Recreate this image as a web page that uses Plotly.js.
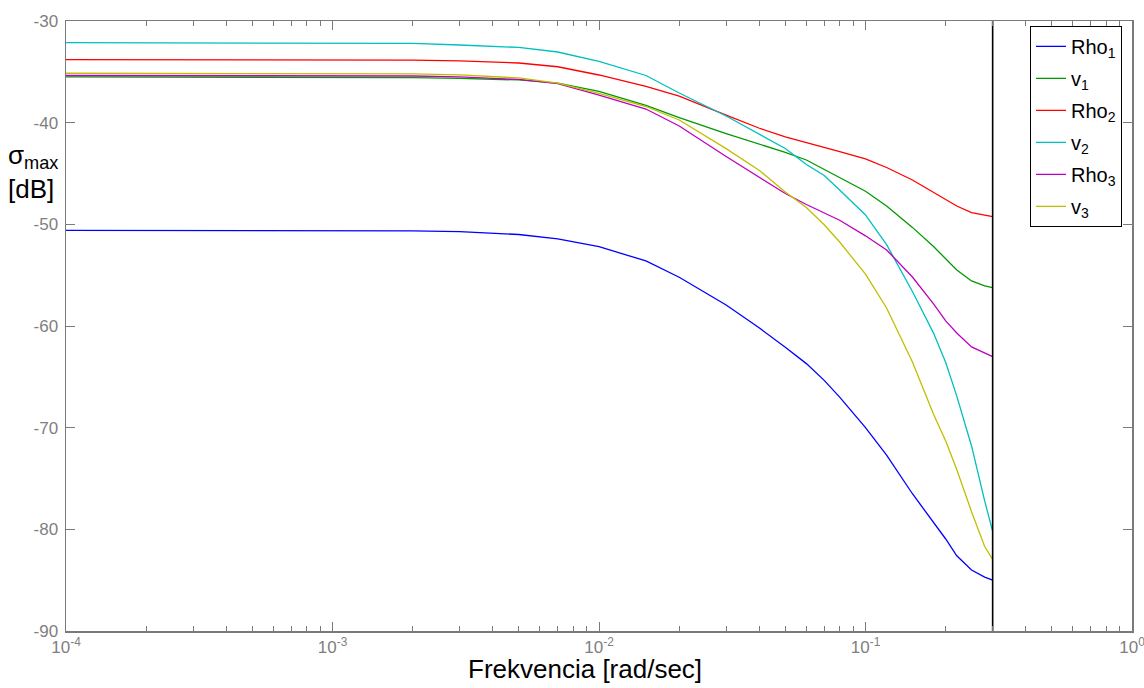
<!DOCTYPE html>
<html>
<head>
<meta charset="utf-8">
<script src="https://cdn.plot.ly/plotly-3.0.1.min.js"></script>
<style>
  html, body { margin: 0; padding: 0; background: #fff; }
  #chart { width: 1144px; height: 688px; }
</style>
</head>
<body>
<div id="chart"></div>
<script>
// Frequency grid [rad/sec]
const freq = [1e-4, 1e-3, 2e-3, 3e-3, 5e-3, 7e-3, 0.01, 0.015, 0.02, 0.03, 0.04, 0.05,
              0.06, 0.07, 0.08, 0.1, 0.12, 0.15, 0.18, 0.2, 0.22, 0.25, 0.28, 0.3];

// Maximum singular value [dB] for each output channel
const rho1 = [-50.6, -50.63, -50.65, -50.72, -51.0, -51.44, -52.2, -53.6, -55.2, -57.93, -60.2, -62.1,
              -63.7, -65.35, -67.0, -70.0, -72.7, -76.5, -79.3, -80.95, -82.6, -84.0, -84.7, -85.0];
const v1   = [-35.5, -35.5, -35.56, -35.65, -35.8, -36.1, -36.93, -38.3, -39.5, -41.08, -42.1, -42.93,
              -43.67, -44.6, -45.34, -46.74, -48.2, -50.3, -52.18, -53.41, -54.49, -55.57, -56.06, -56.23];
const rho2 = [-33.8, -33.8, -33.85, -33.93, -34.13, -34.5, -35.31, -36.44, -37.38, -39.25, -40.55, -41.4,
              -41.95, -42.39, -42.84, -43.57, -44.41, -45.64, -46.82, -47.56, -48.2, -48.84, -49.13, -49.25];
const v2   = [-32.13, -32.16, -32.2, -32.36, -32.6, -33.05, -33.98, -35.36, -37.08, -39.34, -41.17, -42.54,
              -44.11, -45.2, -46.62, -49.08, -52.0, -56.6, -60.7, -63.6, -66.9, -71.8, -77.2, -80.2];
const rho3 = [-35.36, -35.36, -35.41, -35.5, -35.75, -36.15, -37.28, -38.66, -40.33, -43.33, -45.39, -46.97,
              -48.05, -48.88, -49.6, -51.13, -52.52, -55.18, -57.83, -59.5, -60.69, -62.06, -62.7, -63.02];
const v3   = [-35.14, -35.14, -35.2, -35.3, -35.6, -36.1, -37.13, -38.41, -39.74, -42.55, -44.71, -46.82,
              -48.34, -50.04, -51.74, -54.9, -58.23, -63.54, -68.68, -71.31, -74.11, -78.27, -81.69, -82.95];

// Nyquist frequency marker and axis limits
const nyquist = 0.3;
const yLimits = [-90, -30];

const seriesNames  = ['Rho<sub>1</sub>', 'v<sub>1</sub>', 'Rho<sub>2</sub>', 'v<sub>2</sub>', 'Rho<sub>3</sub>', 'v<sub>3</sub>'];
const seriesValues = [rho1, v1, rho2, v2, rho3, v3];
const seriesColors = ['#0000ff', '#009900', '#ff0000', '#00bfbf', '#bf00bf', '#bfbf00'];

// Axis ticks
const xTickVals = [1e-4, 1e-3, 1e-2, 1e-1, 1];
const xTickText = ['10<sup>-4</sup>', '10<sup>-3</sup>', '10<sup>-2</sup>', '10<sup>-1</sup>', '10<sup>0</sup>'];
const yTickVals = [-90, -80, -70, -60, -50, -40, -30];
const yTickText = ['-90', '-80', '-70', '-60', '-50', '-40', '-30'];

const xMinorVals = [];
for (let e = -4; e < 0; e++) {
  for (let m = 2; m <= 9; m++) xMinorVals.push(m * Math.pow(10, e));
}

const FONT = 'Liberation Sans, Arial, Helvetica, sans-serif';
const AXIS_GRAY = '#7a7a7a';

const traces = seriesValues.map((vals, i) => ({
  type: 'scatter',
  mode: 'lines',
  x: freq,
  y: vals,
  name: seriesNames[i],
  legendgroup: 'g' + i,
  line: { color: seriesColors[i], width: 1.3 },
  hoverinfo: 'x+y+name'
}));

traces.push({
  type: 'scatter',
  mode: 'lines',
  x: [nyquist, nyquist],
  y: yLimits,
  line: { color: '#000000', width: 1.6 },
  showlegend: false,
  hoverinfo: 'skip'
});

const layout = {
  width: 1144,
  height: 688,
  margin: { l: 66, r: 12, t: 21, b: 57 },
  paper_bgcolor: '#ffffff',
  plot_bgcolor: '#ffffff',
  font: { family: FONT, color: '#000000' },
  showlegend: true,
  legend: {
    x: 0.9043, y: 0.992, xanchor: 'left', yanchor: 'top',
    bgcolor: '#ffffff',
    bordercolor: '#000000',
    borderwidth: 1,
    font: { family: FONT, size: 20, color: '#000000' },
    tracegroupgap: 3,
    itemwidth: 30
  },
  xaxis: {
    type: 'log',
    range: [-4, 0],
    tickmode: 'array',
    tickvals: xTickVals,
    ticktext: xTickText,
    ticks: 'inside',
    ticklen: 9,
    tickwidth: 1,
    tickcolor: AXIS_GRAY,
    showline: true,
    linecolor: AXIS_GRAY,
    linewidth: 1.5,
    mirror: 'ticks',
    showgrid: false,
    zeroline: false,
    ticklabeloverflow: 'allow',
    tickfont: { family: FONT, size: 17, color: '#808080' },
    minor: {
      tickmode: 'array',
      tickvals: xMinorVals,
      ticks: 'inside',
      ticklen: 5,
      tickcolor: AXIS_GRAY,
      showgrid: false
    }
  },
  yaxis: {
    range: yLimits,
    tickmode: 'array',
    tickvals: yTickVals,
    ticktext: yTickText,
    ticks: 'inside',
    ticklen: 9,
    tickwidth: 1,
    tickcolor: AXIS_GRAY,
    showline: true,
    linecolor: AXIS_GRAY,
    linewidth: 1.5,
    mirror: 'ticks',
    showgrid: false,
    zeroline: false,
    ticklabelstandoff: 3,
    tickfont: { family: FONT, size: 17, color: '#808080' }
  },
  annotations: [
    {
      xref: 'paper', yref: 'paper',
      x: -0.0565, y: 0.752,
      xanchor: 'left', yanchor: 'middle', align: 'left',
      showarrow: false,
      text: 'σ<sub>max</sub><br>[dB]',
      font: { family: FONT, size: 26, color: '#000000' }
    },
    {
      xref: 'paper', yref: 'paper',
      x: 0.487, y: -0.063,
      xanchor: 'center', yanchor: 'middle',
      showarrow: false,
      text: 'Frekvencia [rad/sec]',
      font: { family: FONT, size: 26, color: '#000000' }
    }
  ]
};

Plotly.newPlot('chart', traces, layout, { displayModeBar: false, staticPlot: true });
</script>
</body>
</html>
